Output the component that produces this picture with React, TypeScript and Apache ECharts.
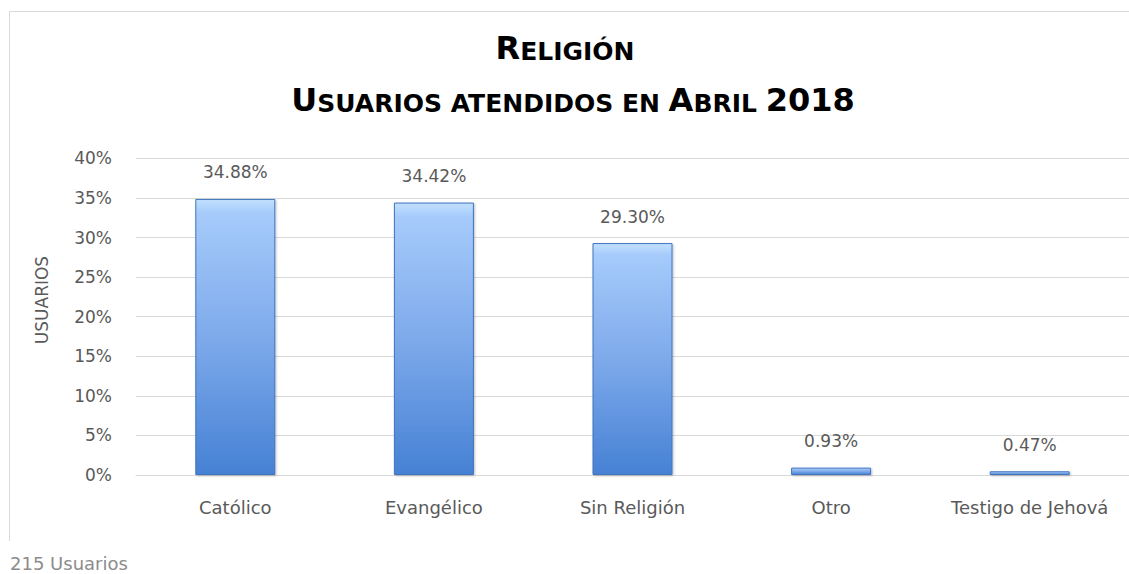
import React, { useEffect, useRef } from "react";
import * as echarts from "echarts";

const categories = ["Católico", "Evangélico", "Sin Religión", "Otro", "Testigo de Jehová"];
const values = [34.88, 34.42, 29.3, 0.93, 0.47];
const yTicks = [0, 5, 10, 15, 20, 25, 30, 35, 40];
const titleLine1 = [
  { t: "R", s: "big" },
  { t: "ELIGIÓN", s: "small" },
];
const titleLine2 = [
  { t: "U", s: "big" },
  { t: "SUARIOS ATENDIDOS EN ", s: "small" },
  { t: "A", s: "big" },
  { t: "BRIL ", s: "small" },
  { t: "2018", s: "big" },
];
const footer = "215 Usuarios";
const axisTitle = "USUARIOS";

const FONT = "'DejaVu Sans', Verdana, sans-serif";
const TEXT = "#595959";

export default function App() {
  const ref = useRef<HTMLDivElement>(null);
  useEffect(() => {
    if (!ref.current) return;
    const chart = echarts.init(ref.current, null, { renderer: "svg" });
    const rich = {
      big: { fontFamily: FONT, fontWeight: "bold", fontSize: 32, lineHeight: 32, color: "#000", verticalAlign: "bottom" },
      small: { fontFamily: FONT, fontWeight: "bold", fontSize: 25, lineHeight: 25, color: "#000", verticalAlign: "bottom" },
    };
    const toRich = (parts: { t: string; s: string }[]) => parts.map((p) => `{${p.s}|${p.t}}`).join("");
    chart.setOption({
      animation: false,
      backgroundColor: "#fff",
      grid: { left: 136, top: 158.4, width: 997, height: 316.6, containLabel: false },
      xAxis: {
        type: "category",
        data: categories,
        axisLine: { lineStyle: { color: "#d9d9d9", width: 1 } },
        axisTick: { show: false },
        axisLabel: { color: TEXT, fontFamily: FONT, fontSize: 18, margin: 23, interval: 0, hideOverlap: false },
      },
      yAxis: {
        type: "value",
        min: yTicks[0],
        max: yTicks[yTicks.length - 1],
        interval: 5,
        axisLine: { show: false },
        axisTick: { show: false },
        splitLine: { lineStyle: { color: "#d9d9d9", width: 1 } },
        axisLabel: { color: TEXT, fontFamily: FONT, fontSize: 17, margin: 24, formatter: "{value}%" },
      },
      series: [
        {
          type: "bar",
          data: values,
          barWidth: 80,
          itemStyle: {
            color: new echarts.graphic.LinearGradient(0, 0, 0, 1, [
              { offset: 0, color: "#c2e0ff" },
              { offset: 0.05, color: "#a6cbfb" },
              { offset: 0.5, color: "#7eaaeb" },
              { offset: 1, color: "#4681d4" },
            ]),
            borderColor: "#3f74bf",
            borderWidth: 1,
            shadowColor: "rgba(0,0,0,0.25)",
            shadowBlur: 2,
            shadowOffsetX: 1,
            shadowOffsetY: 1,
          },
          label: {
            show: true,
            position: "top",
            distance: 18,
            color: TEXT,
            fontFamily: FONT,
            fontSize: 17,
            formatter: (p: any) => p.value.toFixed(2) + "%",
          },
        },
      ],
      graphic: [
        {
          type: "polyline",
          shape: { points: [[9.5, 541], [9.5, 11.5], [1129, 11.5]] },
          style: { stroke: "#d9d9d9", fill: null, lineWidth: 1 },
          silent: true,
        },
        {
          type: "text",
          x: 565,
          y: 48,
          style: { text: toRich(titleLine1), align: "center", verticalAlign: "middle", rich },
        },
        {
          type: "text",
          x: 573,
          y: 100,
          style: { text: toRich(titleLine2), align: "center", verticalAlign: "middle", rich },
        },
        {
          type: "text",
          x: 42,
          y: 300,
          rotation: Math.PI / 2,
          style: { text: axisTitle, align: "center", verticalAlign: "middle", fill: TEXT, font: `17px ${FONT}` },
        },
        {
          type: "text",
          x: 10,
          y: 563,
          style: { text: footer, align: "left", verticalAlign: "middle", fill: "#8c8c8c", font: `18px ${FONT}` },
        },
      ],
    });
    return () => chart.dispose();
  }, []);
  return <div ref={ref} style={{ position: "fixed", left: 0, top: 0, width: 1129, height: 574 }} />;
}
